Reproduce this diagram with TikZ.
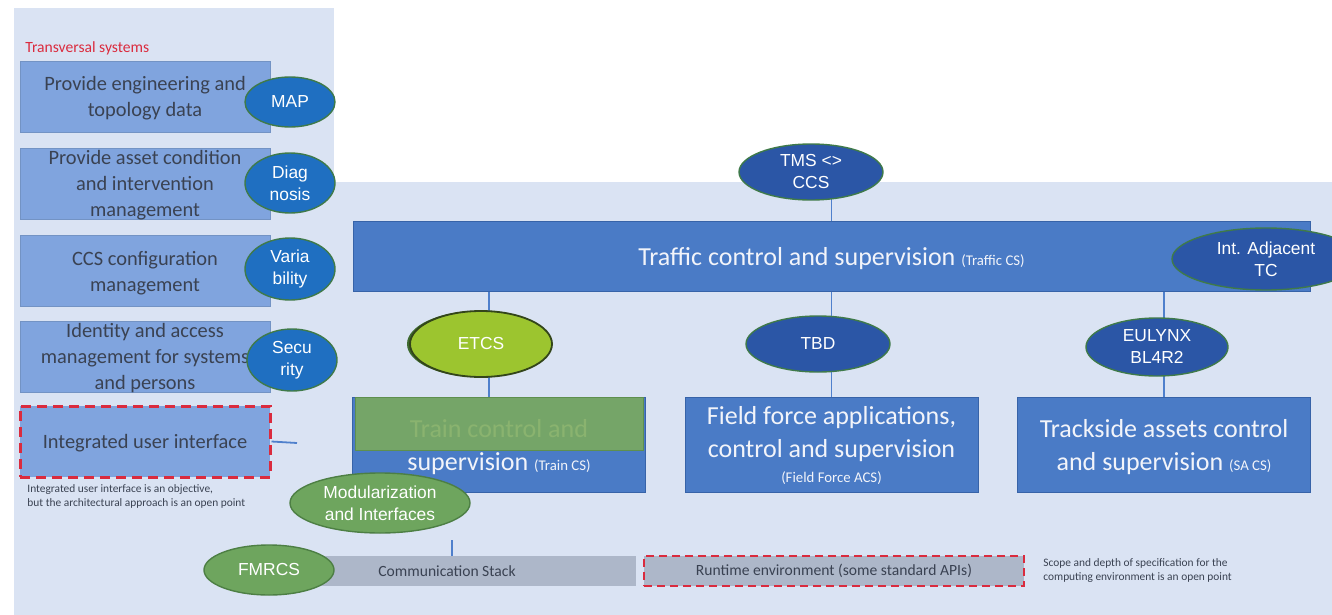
\documentclass[tikz,border=0pt]{standalone}
\usepackage{fontspec}
\setmainfont{Carlito}
\newfontfamily\ellfont{Liberation Sans}
\newcommand{\tagfont}{\fontsize{7.4}{9}\selectfont}
\usetikzlibrary{shapes.geometric,shadows}
\definecolor{panelbg}{HTML}{DAE3F3}
\definecolor{lightblue}{HTML}{80A4DE}
\definecolor{lightedge}{HTML}{7393C4}
\definecolor{sysblue}{HTML}{4A7BC6}
\definecolor{sysedge}{HTML}{3763A8}
\definecolor{darktxt}{HTML}{3A4252}
\definecolor{paletxt}{HTML}{F2F4FA}
\definecolor{mapblue}{HTML}{1F6FC1}
\definecolor{deepblue}{HTML}{2B56A6}
\definecolor{rimgreen}{HTML}{3F7A4A}
\definecolor{modgreen}{HTML}{6EA55E}
\definecolor{modrim}{HTML}{4D7F44}
\definecolor{etcsfill}{HTML}{9CC52F}
\definecolor{etcsrim}{HTML}{33451A}
\definecolor{etcsshade}{HTML}{3E6A2F}
\definecolor{trainfill}{HTML}{7CAB5C}
\definecolor{trainrim}{HTML}{5E8F4E}
\definecolor{greyfill}{HTML}{ADB7C9}
\definecolor{openred}{HTML}{DA2B3E}
\definecolor{wireblue}{HTML}{4F80CC}

\pgfdeclarelayer{panels}
\pgfdeclarelayer{wires}
\pgfsetlayers{panels,wires,main}

\begin{document}
\begin{tikzpicture}[x=0.5pt,y=-0.5pt,
      lbox/.style={draw=lightedge, fill=lightblue, text=darktxt, align=center, inner sep=1pt, text depth=0pt,
                   minimum width=125pt, minimum height=35.5pt, font=\fontsize{10.2}{13}\selectfont},
      sysbox/.style={draw=sysedge, fill=sysblue, text=paletxt, align=center, inner sep=1pt, text depth=0pt,
                   minimum width=146.5pt, minimum height=47.5pt, font=\fontsize{13}{16.5}\selectfont},
      ell/.style={ellipse, inner sep=0pt, align=center, text=white, line width=0.7pt,
                  font=\ellfont\fontsize{8.7}{11}\selectfont},
      mapell/.style={ell, fill=mapblue, draw=rimgreen},
      deepell/.style={ell, fill=deepblue, draw=rimgreen},
      modell/.style={ell, fill=modgreen, draw=modrim},
      bar/.style={fill=greyfill, text=darktxt, minimum height=15pt, font=\fontsize{7.8}{9}\selectfont},
      openline/.style={draw=openred, line width=1.5pt, dash pattern=on 5pt off 3pt},
      wire/.style={draw=wireblue, line width=0.9pt},
      note/.style={text=darktxt, align=left, inner sep=0pt, font=\fontsize{5.7}{7}\selectfont}]
    \begin{pgfonlayer}{panels}
      \fill[white] (0,0) rectangle (1332,615);
      \fill[panelbg] (14,8) rectangle (334,615);
      \fill[panelbg] (334,182) rectangle (1332,615);
    \end{pgfonlayer}
    \useasboundingbox (0,0) rectangle (1332,615);

    % transversal systems
    \node[anchor=west, inner sep=0pt, text=openred, font=\fontsize{7.8}{9}\selectfont] (transtitle) at (25,48) {Transversal systems};
    \node[lbox] (engdata) at (145,96.5) {Provide engineering and\\topology data};
    \node[lbox] (assetcond) at (145,183.5) {Provide asset condition\\and intervention\\management};
    \node[lbox] (ccsconf) at (145,271) {CCS configuration\\management};
    \node[lbox] (idaccess) at (145,356.5) {Identity and access\\management for systems\\and persons};
    \node[lbox, openline] (iui) at (145,441.5) {Integrated user interface};
    \node[note, anchor=north west] (iuinote) at (27,484) {Integrated user interface is an objective,\\but the architectural approach is an open point};
    \node[mapell, minimum width=45pt, minimum height=25pt] (map) at (290,102) {MAP};
    \node[mapell, minimum width=45pt, minimum height=30pt] (diag) at (290,183) {Diag\\nosis};
    \node[mapell, minimum width=45pt, minimum height=31pt] (varia) at (290,269) {Varia\\bility};
    \node[mapell, minimum width=45pt, minimum height=31pt] (secu) at (292,360) {Secu\\rity};

    % control and supervision layers
    \node[sysbox, minimum width=478.5pt, minimum height=35pt] (traffic) at (831.5,256)
      {Traffic control and supervision {\tagfont(Traffic CS)}};
    \node[sysbox] (trainbox) at (499,444.5) {Train control and\\supervision {\tagfont(Train CS)}};
    \node[draw=trainrim, fill=trainfill, fill opacity=0.88, minimum width=144pt, minimum height=26.5pt] (trainhead) at (499,423.5) {};
    \node[sysbox] (fieldbox) at (831.5,444.5) {Field force applications,\\control and supervision\\[-4pt]{\tagfont(Field Force ACS)}};
    \node[sysbox] (trackbox) at (1164,444.5) {Trackside assets control\\and supervision {\tagfont(SA CS)}};

    \node[deepell, minimum width=72pt, minimum height=28pt] (tms) at (811,172) {TMS <>\\CCS};
    \node[deepell, minimum width=94pt, minimum height=31pt] (intadj) at (1266,259) {Int. Adjacent\\TC};
    \node[ell, fill=etcsfill, draw=etcsrim, line width=0.9pt, minimum width=71pt, minimum height=33pt,
          general shadow={fill=etcsshade, shadow xshift=-1.5pt, shadow yshift=0pt}] (etcs) at (481,344) {ETCS};
    \node[deepell, minimum width=72pt, minimum height=28pt] (tbd) at (818,344) {TBD};
    \node[deepell, minimum width=71pt, minimum height=29pt] (eulynx) at (1157,347) {EULYNX\\BL4R2};

    % computing platform
    \node[modell, minimum width=90pt, minimum height=30pt] (modular) at (380,503) {Modularization\\and Interfaces};
    \node[bar, minimum width=189pt] (comstack) at (447,571) {Communication Stack};
    \node[modell, minimum width=65pt, minimum height=25pt] (fmrcs) at (269,570) {FMRCS};
    \node[bar, openline, line width=1pt, dash pattern=on 4pt off 2.5pt, minimum width=190pt] (runtime) at (834,570.5)
      {Runtime environment (some standard APIs)};
    \node[note, anchor=west] (scopenote) at (1043,571) {Scope and depth of specification for the\\computing environment is an open point};

    \coordinate (etcsline) at (489,300);
    \coordinate (iuitap) at (297,443);
    \coordinate (modtap) at (452,540);
    \begin{pgfonlayer}{wires}
      \draw[wire] (fieldbox |- tms) -- (fieldbox |- traffic.north);
      \foreach \x/\b in {etcsline/trainbox, fieldbox/fieldbox, trackbox/trackbox}
        \draw[wire] (\x |- traffic.south) -- (\x |- \b.north);
      \draw[wire] (iui.east) -- (iuitap);
      \draw[wire] (modtap) -- (modtap |- comstack.north);
    \end{pgfonlayer}
  \end{tikzpicture}
\end{document}
